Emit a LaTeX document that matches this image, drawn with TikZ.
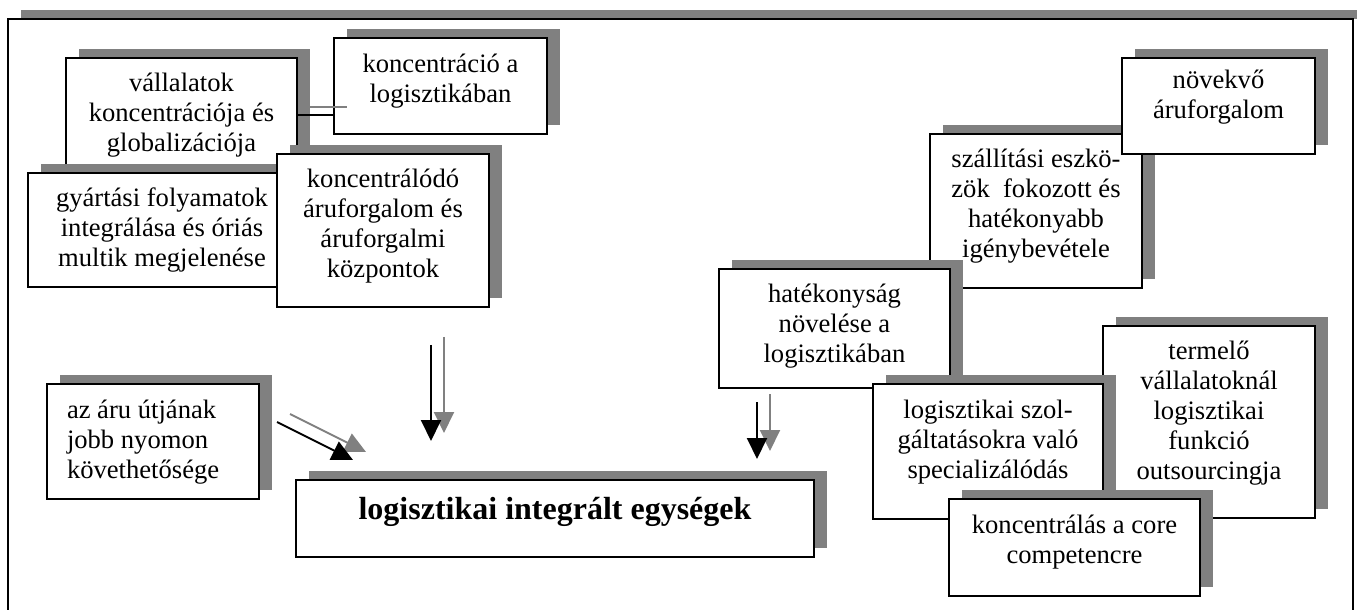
\documentclass[tikz,border=0pt]{standalone}
\usepackage{fontspec}
\setmainfont{Liberation Serif}
\usetikzlibrary{shadows,arrows.meta}

\definecolor{shadowgray}{RGB}{128,128,128}

% one drawing unit = 0.5pt
\newlength\pxu
\setlength\pxu{0.5pt}

% box text: [alignment]{width}{height}{first baseline from top}{lines}
\newcommand{\cardbody}[5][\centering]{%
  \begin{minipage}[t][#3\pxu][t]{#2\pxu}#1\rule{0pt}{#4\pxu}#5\end{minipage}}

\tikzset{
  card/.style={draw=black, line width=1pt, fill=white, inner sep=0pt, outer sep=0pt,
    font=\fontsize{13.3pt}{15pt}\selectfont,
    general shadow={fill=shadowgray, shadow xshift=6.5pt, shadow yshift=4.5pt}},
  maincard/.style={card, font=\fontsize{16pt}{18pt}\selectfont\bfseries},
  link/.style={line width=1pt, draw=black},
  linkshadow/.style={line width=1pt, draw=shadowgray,
    transform canvas={xshift=6.5pt, yshift=4pt}},
  flowtip/.style={-{Triangle[length=10.5pt, width=10pt]}},
  flow/.style={link, flowtip},
  flowshadow/.style={linkshadow, flowtip},
}

\begin{document}
\begin{tikzpicture}[x=0.5pt, y=-0.5pt]
\useasboundingbox (0,0) rectangle (1357,610);

% outer frame with its top shadow band
\fill[shadowgray] (21,10) rectangle (1370,19);
\draw[line width=1pt, fill=white] (8,19) rectangle (1353,640);

% left group
\node[card] (valla) at (181.5,115)
  {\cardbody{231}{114}{33.5}{vállalatok\\koncentrációja és\\globalizációja}};
\node[card] (konc) at (440.5,86)
  {\cardbody{213}{96}{35}{koncentráció a\\logisztikában}};
\draw[link] (valla.east) -- (valla.east -| konc.west);
\draw[linkshadow] (valla.east) -- (valla.east -| konc.west);
\node[card] (gyart) at (162,230)
  {\cardbody{268}{114}{33.5}{gyártási folyamatok\\integrálása és óriás\\multik megjelenése}};
\node[card] (kconc) at (383,230.5)
  {\cardbody{212}{153}{34}{koncentrálódó\\áruforgalom és\\áruforgalmi\\központok}};
\node[card] (azaru) at (153,441.5)
  {\cardbody[\raggedright\leftskip=10pt]{212}{115}{34}{az áru útjának\\jobb nyomon\\követhetősége}};

% central result
\node[maincard] (main) at (555,518.5)
  {\cardbody{518}{77}{39}{logisztikai integrált egységek}};

% arrows into the central box
\coordinate (d0) at (277,422);
\coordinate (d1) at (353,460);
\coordinate (m0) at (431,345);
\coordinate (m1) at (431,441);
\coordinate (r0) at (757,402);
\coordinate (r1) at (757,459);
\draw[flowshadow] (d0) -- (d1);
\draw[flow] (d0) -- (d1);
\draw[flowshadow] (m0) -- (m1);
\draw[flow] (m0) -- (m1);
\draw[flowshadow] (r0) -- (r1);
\draw[flow] (r0) -- (r1);

% right group
\node[card] (termel) at (1209,422)
  {\cardbody{212}{192}{33}{termelő\\vállalatoknál\\logisztikai\\funkció\\outsourcingja}};
\node[card] (szall) at (1036,211)
  {\cardbody{212}{154}{34}{szállítási eszkö-\\zök\ \ fokozott és\\hatékonyabb\\igénybevétele}};
\node[card] (novek) at (1218.5,106)
  {\cardbody{193}{96}{31}{növekvő\\áruforgalom}};
\node[card] (hatek) at (834.5,328.5)
  {\cardbody{231}{119}{34}{hatékonyság\\növelése a\\logisztikában}};
\node[card] (szolg) at (988,451.5)
  {\cardbody{230}{135}{34}{logisztikai szol-\\gáltatásokra való\\specializálódás}};
\node[card] (corec) at (1074.5,547.5)
  {\cardbody{251}{97}{34}{koncentrálás a core\\competencre}};
\end{tikzpicture}
\end{document}
